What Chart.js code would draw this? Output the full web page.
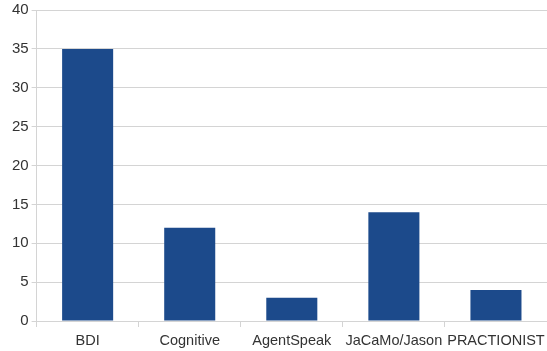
<!DOCTYPE html>
<html>
<head>
<meta charset="utf-8">
<script src="https://cdn.jsdelivr.net/npm/chart.js@4/dist/chart.umd.min.js"></script>
<style>
  html, body { margin: 0; padding: 0; background: #ffffff; }
  #wrap { width: 547px; height: 351px; position: relative; }
</style>
</head>
<body>
<div id="wrap"><canvas id="c"></canvas></div>
<script>
// Agent architectures and how often each was found
const categories = ["BDI", "Cognitive", "AgentSpeak", "JaCaMo/Jason", "PRACTIONIST"];
const counts = [35, 12, 3, 14, 4];
const yTicks = [0, 5, 10, 15, 20, 25, 30, 35, 40];

const barColor = "#1c4a8b";
const gridColor = "#d4d4d4";
const textColor = "#333333";
const family = "'Liberation Sans', Arial, sans-serif";

new Chart(document.getElementById("c"), {
  type: "bar",
  data: {
    labels: categories,
    datasets: [{
      data: counts,
      backgroundColor: barColor,
      borderWidth: 0,
      barPercentage: 1.0,
      categoryPercentage: 0.5
    }]
  },
  options: {
    responsive: true,
    maintainAspectRatio: false,
    animation: false,
    layout: { padding: { top: 10, right: -2, left: 0, bottom: 0 } },
    plugins: { legend: { display: false }, tooltip: { enabled: false } },
    scales: {
      x: {
        grid: {
          offset: true,
          drawOnChartArea: false,
          drawTicks: true,
          tickLength: 6,
          color: gridColor
        },
        border: { display: true, color: gridColor },
        ticks: { color: textColor, font: { family, size: 14.5 }, padding: 5, maxRotation: 0, autoSkip: false },
        afterFit: s => { s.height = 30; s.paddingLeft = 0; s.paddingRight = 0; }
      },
      y: {
        min: yTicks[0],
        max: yTicks[yTicks.length - 1],
        afterBuildTicks: s => { s.ticks = yTicks.map(v => ({ value: v })); },
        grid: { color: gridColor, tickLength: 5 },
        border: { display: true, color: gridColor },
        ticks: { color: textColor, font: { family, size: 15 }, padding: 3 },
        afterFit: s => { s.width = 36.6; s.paddingTop = 0; s.paddingBottom = 0; }
      }
    }
  }
});
</script>
</body>
</html>
